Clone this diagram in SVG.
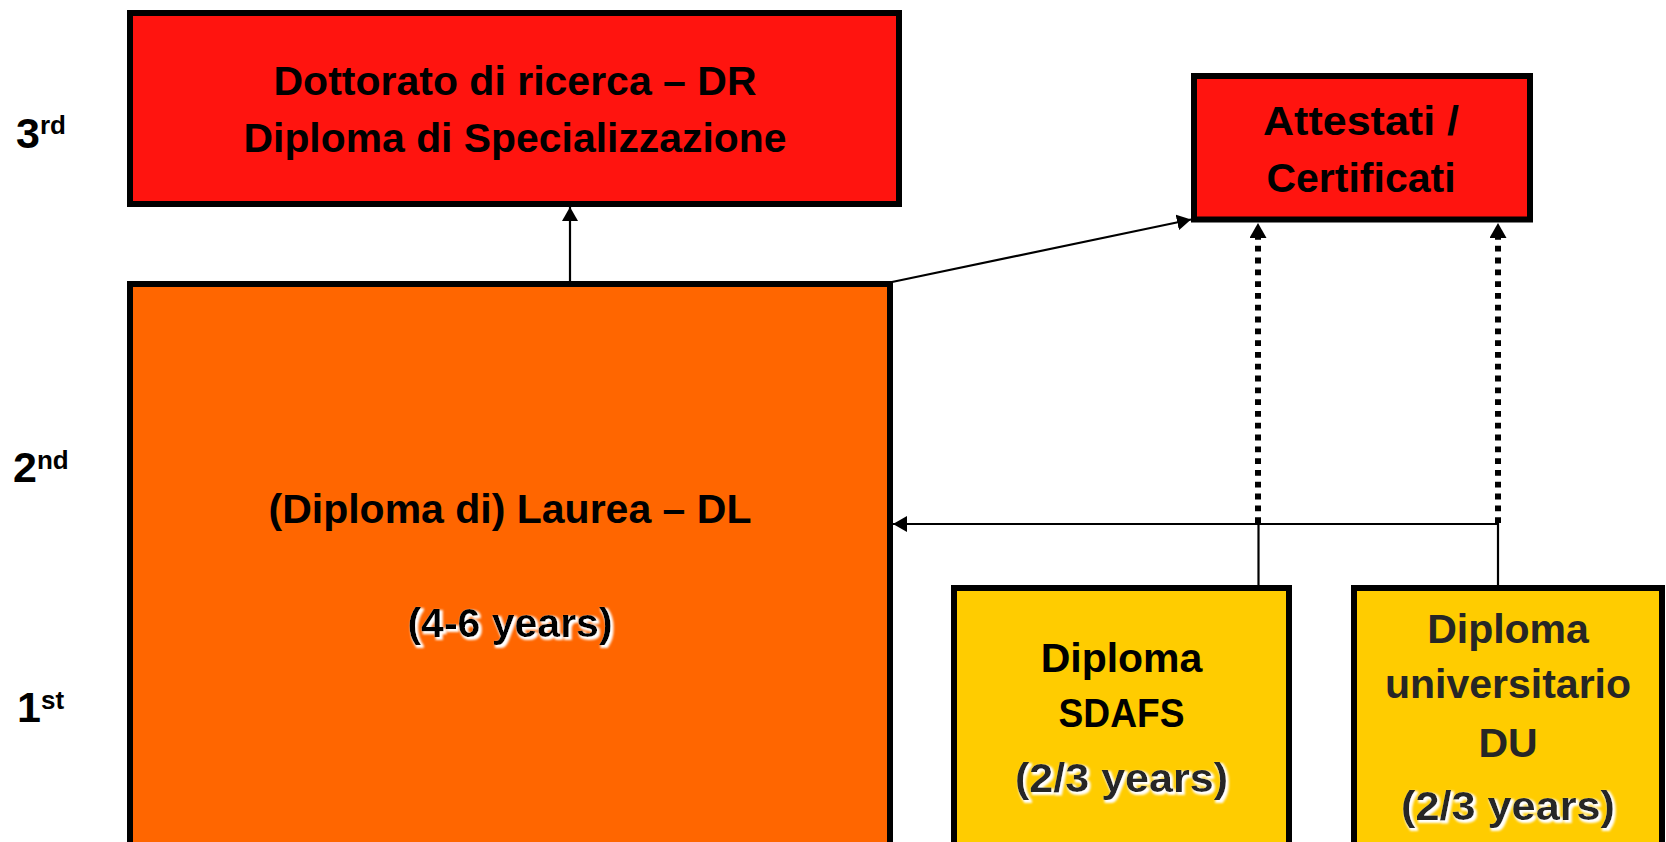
<svg xmlns="http://www.w3.org/2000/svg" width="1666" height="842" viewBox="0 0 1666 842">
  <style>
    .box { stroke: #000; stroke-width: 6; }
    .red { fill: #FF140F; }
    .orange { fill: #FF6600; }
    .yellow { fill: #FFCC00; }
    .t { font-family: "Liberation Sans", Arial, sans-serif; font-weight: bold; font-size: 41px; text-anchor: middle; fill: #000; }
    .dk { fill: #262626; }
    .lvl { font-family: "Liberation Sans", Arial, sans-serif; font-weight: bold; font-size: 43px; fill: #000; }
    .sup { font-size: 26px; }
    .thin { stroke: #000; stroke-width: 2.2; fill: none; }
    .dot { stroke: #000; stroke-width: 6; fill: none; stroke-dasharray: 5.8 6; }
  </style>
  <defs>
    <marker id="arr" viewBox="0 0 14 16" refX="14" refY="8" markerWidth="14" markerHeight="16" markerUnits="userSpaceOnUse" orient="auto">
      <path d="M0,0 L14,8 L0,16 Z" fill="#000"/>
    </marker>
    <marker id="arrD" viewBox="0 0 15 17" refX="0" refY="8.5" markerWidth="15" markerHeight="17" markerUnits="userSpaceOnUse" orient="auto">
      <path d="M0,0 L15,8.5 L0,17 Z" fill="#000"/>
    </marker>
    <filter id="glow" x="-10%" y="-30%" width="125%" height="170%">
      <feMorphology in="SourceAlpha" operator="dilate" radius="1" result="d"/>
      <feOffset in="d" dx="2" dy="2" result="o"/>
      <feGaussianBlur in="o" stdDeviation="1.2" result="b"/>
      <feFlood flood-color="#ffffff"/>
      <feComposite in2="b" operator="in" result="s"/>
      <feMerge>
        <feMergeNode in="s"/>
        <feMergeNode in="SourceGraphic"/>
      </feMerge>
    </filter>
  </defs>
  <rect width="1666" height="842" fill="#ffffff"/>

  <g id="levels">
    <text class="lvl" x="16" y="147.5">3<tspan class="sup" y="134">rd</tspan></text>
    <text class="lvl" x="13" y="481.5">2<tspan class="sup" y="469">nd</tspan></text>
    <text class="lvl" x="17" y="721.5">1<tspan class="sup" y="709">st</tspan></text>
  </g>

  <g id="connectors">
    <line class="thin" x1="570" y1="281" x2="570" y2="207" marker-end="url(#arr)"/>
    <line class="thin" x1="892" y1="282" x2="1191" y2="219.5" marker-end="url(#arr)"/>
    <line class="thin" x1="1499" y1="524" x2="893" y2="524" marker-end="url(#arr)"/>
    <line class="thin" x1="1258.5" y1="585" x2="1258.5" y2="523"/>
    <line class="thin" x1="1498" y1="585" x2="1498" y2="523"/>
    <line class="dot" x1="1258" y1="523" x2="1258" y2="238" marker-end="url(#arrD)"/>
    <line class="dot" x1="1498" y1="523" x2="1498" y2="238" marker-end="url(#arrD)"/>
  </g>

  <g id="node-dr">
    <rect class="box red" x="130" y="13" width="769" height="191"/>
    <text class="t" x="515" y="95">Dottorato di ricerca – DR</text>
    <text class="t" x="515" y="152" textLength="543" lengthAdjust="spacingAndGlyphs">Diploma di Specializzazione</text>
  </g>

  <g id="node-attestati">
    <rect class="box red" x="1194" y="76" width="336" height="143.5"/>
    <text class="t" x="1361" y="135" textLength="196" lengthAdjust="spacingAndGlyphs">Attestati /</text>
    <text class="t" x="1361" y="191.5">Certificati</text>
  </g>

  <g id="node-laurea">
    <rect class="box orange" x="130" y="284" width="760" height="620"/>
    <text class="t" x="510" y="522.5">(Diploma di) Laurea – DL</text>
    <text class="t" x="510" y="636.5" filter="url(#glow)">(4-6 years)</text>
  </g>

  <g id="node-sdafs">
    <rect class="box yellow" x="954" y="588" width="335" height="320"/>
    <text class="t" x="1121.5" y="671.5">Diploma</text>
    <text class="t" x="1121.5" y="727" textLength="126" lengthAdjust="spacingAndGlyphs">SDAFS</text>
    <text class="t dk" x="1121.5" y="791.5" textLength="213" lengthAdjust="spacingAndGlyphs" filter="url(#glow)">(2/3 years)</text>
  </g>

  <g id="node-du">
    <rect class="box yellow" x="1354" y="588" width="308" height="320"/>
    <text class="t dk" x="1508" y="642.5">Diploma</text>
    <text class="t dk" x="1508" y="698">universitario</text>
    <text class="t dk" x="1508" y="756.5">DU</text>
    <text class="t dk" x="1508" y="820" textLength="214" lengthAdjust="spacingAndGlyphs" filter="url(#glow)">(2/3 years)</text>
  </g>
</svg>
